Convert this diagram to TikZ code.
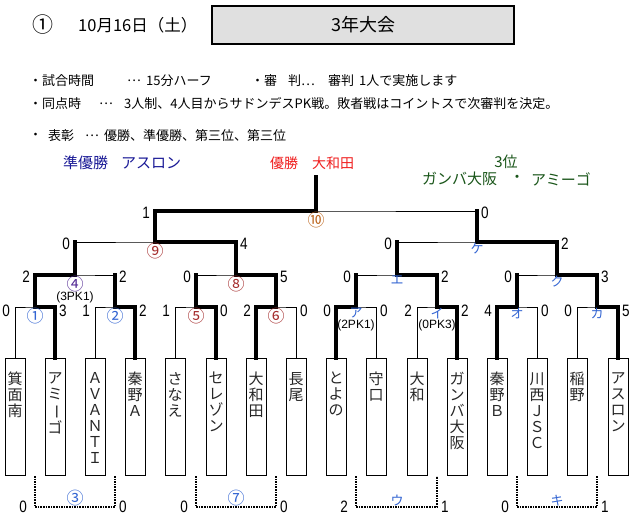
\documentclass[tikz,border=0pt]{standalone}
\usepackage{fontspec}
\usepackage{graphicx}
\usepackage{xcolor}
\usetikzlibrary{positioning}
\setmainfont{Noto Sans CJK JP}
\newfontfamily\scorefont[FakeStretch=0.82]{Liberation Sans}
\newfontfamily\pkfont{Liberation Sans}
\definecolor{kanablue}{RGB}{50,100,210}
\definecolor{navyblue}{RGB}{25,25,150}
\definecolor{winred}{RGB}{240,30,30}
\definecolor{thirdgreen}{RGB}{25,85,25}
\definecolor{matchbrown}{RGB}{165,45,45}
\definecolor{matchpurple}{RGB}{85,45,150}
\definecolor{finalorange}{RGB}{190,105,35}
\newcommand{\chouon}{\rotatebox[origin=c]{-90}{ー}}

\begin{document}
\begin{tikzpicture}[x=1pt,y=-1pt,
		lose/.style={line width=1pt},
		win/.style={line width=4pt,line cap=rect,line join=miter},
		cons/.style={line width=1.6pt,dash pattern=on 1.6pt off 1pt},
		team/.style={draw,fill=white,line width=1pt,minimum width=20pt,minimum height=117pt,inner sep=0pt,anchor=north},
		tname/.style={anchor=north,yshift=-14pt,align=center,inner sep=0pt,text=black!85,font=\fontsize{15}{16}\selectfont,execute at begin node=\rule{0pt}{13pt}},
		ls/.style={anchor=east,xshift=-5pt,yshift=-2pt,inner sep=0pt,font=\scorefont\fontsize{16.5}{16.5}\selectfont},
		rs/.style={anchor=west,xshift=4pt,yshift=-2pt,inner sep=0pt,font=\scorefont\fontsize{16.5}{16.5}\selectfont},
		ls1/.style={ls,yshift=-2pt},
		rs1/.style={rs,yshift=-2pt},
		tag/.style={below=1pt,inner sep=0pt,font=\fontsize{13}{13}\selectfont},
		circ/.style={below=0.5pt,inner sep=0pt,font=\fontsize{17}{17}\selectfont},
		ctag/.style={above=0.5pt,inner sep=0pt,text=kanablue,font=\fontsize{13}{13}\selectfont},
		pk/.style={inner sep=0pt,font=\pkfont\fontsize{12}{12}\selectfont},
		note/.style={anchor=west,inner sep=0pt,font=\fontsize{13}{13}\selectfont}]
	\useasboundingbox (0,0) rectangle (639,515);
	\fill[white] (0,0) rectangle (639,515);
	\node[inner sep=0pt,font=\fontsize{21}{21}\selectfont] (no) at (43,25) {①};
	\node[anchor=west,inner sep=0pt,font=\fontsize{16.5}{16.5}\selectfont] (date) at (78,25) {10月16日（土）};
	\node[draw,line width=1.2pt,fill=black!12,minimum width=302pt,minimum height=38pt,font=\fontsize{18}{18}\selectfont] (title) at (363,25) {3年大会};
	\node[note] (r1a) at (29,81) {・試合時間};
	\node[note] (r1b) at (127,81) {…};
	\node[note] (r1c) at (146,81) {15分ハーフ};
	\node[note] (r1d) at (251,81) {・審};
	\node[note] (r1e) at (288,81) {判…};
	\node[note] (r1f) at (328,81) {審判\hspace{5pt}1人で実施します};
	\node[note] (r2a) at (29,104) {・同点時};
	\node[note] (r2b) at (99,104) {…};
	\node[note] (r2c) at (124,104) {3人制、4人目からサドンデスPK戦。敗者戦はコイントスで次審判を決定。};
	\node[note] (r3a) at (29,136) {・};
	\node[note] (r3b) at (48,136) {表彰};
	\node[note] (r3c) at (85,136) {…};
	\node[note] (r3d) at (104,136) {優勝、準優勝、第三位、第三位};
	\node[anchor=west,inner sep=0pt,text=navyblue,font=\fontsize{15}{15}\selectfont] (second) at (63,163) {準優勝\hspace{13pt}アスロン};
	\node[anchor=west,inner sep=0pt,text=winred,font=\fontsize{14}{14}\selectfont] (champ) at (270,163) {優勝\hspace{14pt}大和田};
	\node[inner sep=0pt,text=thirdgreen,font=\fontsize{15}{15}\selectfont] (third) at (506,162) {3位};
	\node[anchor=west,inner sep=0pt,text=thirdgreen,font=\fontsize{15}{15}\selectfont] (thirda) at (422,179) {ガンバ大阪};
	\node[inner sep=0pt,text=thirdgreen,font=\fontsize{15}{15}\selectfont] (thirddot) at (517,179) {・};
	\node[anchor=west,inner sep=0pt,text=thirdgreen,font=\fontsize{15}{15}\selectfont] (thirdb) at (531,179) {アミーゴ};

	\node[team] (t1) at (15,358) {};
	\node[team] (t2) at (55,358) {};
	\node[team] (t3) at (95,358) {};
	\node[team] (t4) at (135,358) {};
	\node[team] (t5) at (175,358) {};
	\node[team] (t6) at (216,358) {};
	\node[team] (t7) at (256,358) {};
	\node[team] (t8) at (296,358) {};
	\node[team] (t9) at (336,358) {};
	\node[team] (t10) at (376,358) {};
	\node[team] (t11) at (417,358) {};
	\node[team] (t12) at (457,358) {};
	\node[team] (t13) at (497,358) {};
	\node[team] (t14) at (537,358) {};
	\node[team] (t15) at (577,358) {};
	\node[team] (t16) at (618,358) {};
	\node[tname] (n1) at (t1.north) {箕\\面\\南};
	\node[tname] (n2) at (t2.north) {ア\\ミ\\\chouon\\ゴ};
	\node[tname] (n3) at (t3.north) {Ａ\\Ｖ\\Ａ\\Ｎ\\Ｔ\\Ｉ};
	\node[tname] (n4) at (t4.north) {秦\\野\\Ａ};
	\node[tname] (n5) at (t5.north) {さ\\な\\え};
	\node[tname] (n6) at (t6.north) {セ\\レ\\ゾ\\ン};
	\node[tname] (n7) at (t7.north) {大\\和\\田};
	\node[tname] (n8) at (t8.north) {長\\尾};
	\node[tname] (n9) at (t9.north) {と\\よ\\の};
	\node[tname] (n10) at (t10.north) {守\\口};
	\node[tname] (n11) at (t11.north) {大\\和};
	\node[tname] (n12) at (t12.north) {ガ\\ン\\バ\\大\\阪};
	\node[tname] (n13) at (t13.north) {秦\\野\\Ｂ};
	\node[tname] (n14) at (t14.north) {川\\西\\Ｊ\\Ｓ\\Ｃ};
	\node[tname] (n15) at (t15.north) {稲\\野};
	\node[tname] (n16) at (t16.north) {ア\\ス\\ロ\\ン};

	\coordinate (m1) at (35,307);
	\coordinate (m2) at (115,307);
	\coordinate (m5) at (196,307);
	\coordinate (m6) at (276,307);
	\coordinate (ma) at (356,307);
	\coordinate (mi) at (437,307);
	\coordinate (mo) at (517,307);
	\coordinate (mka) at (597,307);
	\coordinate (m4) at (75,275);
	\coordinate (m8) at (236,275);
	\coordinate (me) at (397,275);
	\coordinate (mku) at (557,275);
	\coordinate (m9) at (155,242);
	\coordinate (mke) at (477,242);
	\coordinate (m10) at (316,211);
	\coordinate (top) at (316,177);
	\coordinate (m3) at (75,507);
	\coordinate (m7) at (236,507);
	\coordinate (mu) at (397,507);
	\coordinate (mki) at (557,507);

	\draw[lose] (t1.north) |- (m1) -| (t2.north);
	\draw[lose] (t3.north) |- (m2) -| (t4.north);
	\draw[lose] (t5.north) |- (m5) -| (t6.north);
	\draw[lose] (t7.north) |- (m6) -| (t8.north);
	\draw[lose] (t9.north) |- (ma) -| (t10.north);
	\draw[lose] (t11.north) |- (mi) -| (t12.north);
	\draw[lose] (t13.north) |- (mo) -| (t14.north);
	\draw[lose] (t15.north) |- (mka) -| (t16.north);
	\draw[lose] (m1) |- (m4) -| (m2);
	\draw[lose] (m5) |- (m8) -| (m6);
	\draw[lose] (ma) |- (me) -| (mi);
	\draw[lose] (mo) |- (mku) -| (mka);
	\draw[lose] (m4) |- (m9) -| (m8);
	\draw[lose] (me) |- (mke) -| (mku);
	\draw[lose] (m9) |- (m10) -| (mke);

	\draw[win] (t2.north) |- (m1);
	\draw[win] (t4.north) |- (m2);
	\draw[win] (t6.north) |- (m5);
	\draw[win] (t7.north) |- (m6);
	\draw[win] (t9.north) |- (ma);
	\draw[win] (t12.north) |- (mi);
	\draw[win] (t13.north) |- (mo);
	\draw[win] (t16.north) |- (mka);
	\draw[win] (m1) |- (m4);
	\draw[win] (m2) -- (m2 |- m4);
	\draw[win] (m6) |- (m8);
	\draw[win] (m5) -- (m5 |- m8);
	\draw[win] (mi) |- (me);
	\draw[win] (ma) -- (ma |- me);
	\draw[win] (mka) |- (mku);
	\draw[win] (mo) -- (mo |- mku);
	\draw[win] (m8) |- (m9);
	\draw[win] (m4) -- (m4 |- m9);
	\draw[win] (mku) |- (mke);
	\draw[win] (me) -- (me |- mke);
	\draw[win] (m9) |- (m10) -- (top);
	\draw[win] (mke) -- (mke |- m10);

	\draw[cons] (m1 |- t1.south) |- (m3) -| (m2 |- t1.south);
	\draw[cons] (m5 |- t1.south) |- (m7) -| (m6 |- t1.south);
	\draw[cons] (ma |- t1.south) |- (mu) -| (mi |- t1.south);
	\draw[cons] (mo |- t1.south) |- (mki) -| (mka |- t1.south);

	\node[ls1] (s1a) at (t1.north |- m1) {0};
	\node[rs1] (s1b) at (t2.north |- m1) {3};
	\node[ls1] (s2a) at (t3.north |- m2) {1};
	\node[rs1] (s2b) at (t4.north |- m2) {2};
	\node[ls1] (s5a) at (t5.north |- m5) {1};
	\node[rs1] (s5b) at (t6.north |- m5) {0};
	\node[ls1] (s6a) at (t7.north |- m6) {2};
	\node[rs1] (s6b) at (t8.north |- m6) {0};
	\node[ls1] (saa) at (t9.north |- ma) {0};
	\node[rs1] (sab) at (t10.north |- ma) {0};
	\node[ls1] (sia) at (t11.north |- mi) {2};
	\node[rs1] (sib) at (t12.north |- mi) {2};
	\node[ls1] (soa) at (t13.north |- mo) {4};
	\node[rs1] (sob) at (t14.north |- mo) {0};
	\node[ls1] (skaa) at (t15.north |- mka) {0};
	\node[rs1] (skab) at (t16.north |- mka) {5};
	\node[ls] (s4a) at (m1 |- m4) {2};
	\node[rs] (s4b) at (m2 |- m4) {2};
	\node[ls] (s8a) at (m5 |- m8) {0};
	\node[rs] (s8b) at (m6 |- m8) {5};
	\node[ls] (sea) at (ma |- me) {0};
	\node[rs] (seb) at (mi |- me) {2};
	\node[ls] (skua) at (mo |- mku) {0};
	\node[rs] (skub) at (mka |- mku) {3};
	\node[ls] (s9a) at (m4 |- m9) {0};
	\node[rs] (s9b) at (m8 |- m9) {4};
	\node[ls] (skea) at (me |- mke) {0};
	\node[rs] (skeb) at (mku |- mke) {2};
	\node[ls] (s10a) at (m9 |- m10) {1};
	\node[rs] (s10b) at (mke |- m10) {0};
	\node[ls,xshift=-3pt,yshift=2.5pt] (s3a) at (m1 |- m3) {0};
	\node[rs,yshift=2.5pt] (s3b) at (m2 |- m3) {0};
	\node[ls,xshift=-3pt,yshift=2.5pt] (s7a) at (m5 |- m7) {0};
	\node[rs,yshift=2.5pt] (s7b) at (m6 |- m7) {0};
	\node[ls,xshift=-3pt,yshift=2.5pt] (sua) at (ma |- mu) {2};
	\node[rs,yshift=2.5pt] (sub) at (mi |- mu) {1};
	\node[ls,xshift=-3pt,yshift=2.5pt] (skia) at (mo |- mki) {0};
	\node[rs,yshift=2.5pt] (skib) at (mka |- mki) {1};

	\node[circ,text=kanablue] (l1) at (m1) {①};
	\node[circ,text=kanablue] (l2) at (m2) {②};
	\node[circ,text=matchbrown] (l5) at (m5) {⑤};
	\node[circ,text=matchbrown] (l6) at (m6) {⑥};
	\node[tag,text=kanablue] (la) at (ma) {ア};
	\node[pk,below=1pt of la] (pa) {(2PK1)};
	\node[tag,text=kanablue] (li) at (mi) {イ};
	\node[pk,below=1pt of li] (pi) {(0PK3)};
	\node[tag,text=kanablue] (lo) at (mo) {オ};
	\node[tag,text=kanablue] (lka) at (mka) {カ};
	\node[circ,text=matchpurple] (l4) at (m4) {④};
	\node[pk,below=0pt of l4] (p4) {(3PK1)};
	\node[circ,text=matchbrown] (l8) at (m8) {⑧};
	\node[tag,text=kanablue] (le) at (me) {エ};
	\node[tag,text=kanablue] (lku) at (mku) {ク};
	\node[circ,text=matchbrown] (l9) at (m9) {⑨};
	\node[tag,text=kanablue] (lke) at (mke) {ケ};
	\node[circ,text=finalorange] (l10) at (m10) {⑩};
	\node[ctag,font=\fontsize{17}{17}\selectfont] (l3) at (m3) {③};
	\node[ctag,font=\fontsize{17}{17}\selectfont] (l7) at (m7) {⑦};
	\node[ctag] (lu) at (mu) {ウ};
	\node[ctag] (lki) at (mki) {キ};
\end{tikzpicture}
\end{document}
